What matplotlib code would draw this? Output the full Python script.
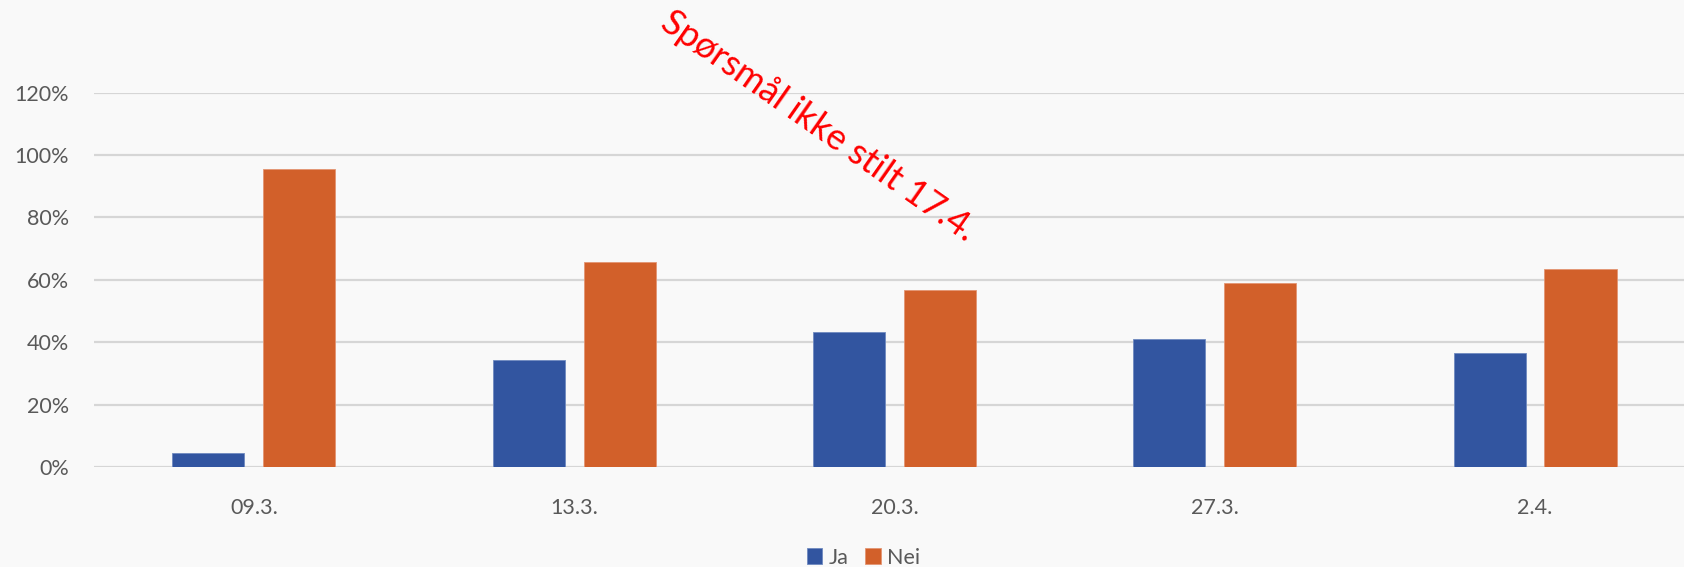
import numpy as np
import matplotlib
matplotlib.use("Agg")
import matplotlib.pyplot as plt

plt.rcParams['font.family'] = ['Lato', 'DejaVu Sans']

dates = ["09.3.", "13.3.", "20.3.", "27.3.", "2.4."]
ja = [4.5, 34.2, 43.4, 40.9, 36.5]
nei = [95.5, 65.8, 56.6, 59.1, 63.5]
yticks = [0, 20, 40, 60, 80, 100, 120]

blue = "#3255A0"
orange = "#D2602A"
grey_text = "#595959"
bg = "#F9F9F9"

W, H = 1684, 567
fig = plt.figure(figsize=(W / 100, H / 100), dpi=100, facecolor=bg)
# plot area runs past the right edge (the reference is cropped there)
ax = fig.add_axes([93.7 / W, 1 - 467 / H, 1601.5 / W, (467 - 92.7) / H])
ax.set_facecolor(bg)

x = np.arange(len(dates))
bw = 0.225
off = 0.142
ax.bar(x - off, ja, bw, color=blue, edgecolor="#6f8ac0", linewidth=0.6, label="Ja", zorder=3)
ax.bar(x + off, nei, bw, color=orange, edgecolor="#e39573", linewidth=0.6, label="Nei", zorder=3)

ax.set_xlim(-0.5, len(dates) - 0.5)
ax.set_ylim(0, 120)
ax.set_yticks(yticks)
ax.set_yticklabels([f"{v}%" for v in yticks])
ax.set_xticks(x)
ax.set_xticklabels(dates)
ax.yaxis.grid(True, color="#D6D6D6", linewidth=1.6, zorder=0)
ax.set_axisbelow(True)
for s in ax.spines.values():
    s.set_visible(False)
ax.tick_params(axis="both", length=0, labelsize=15.5, labelcolor=grey_text)
ax.tick_params(axis="y", pad=18)
ax.tick_params(axis="x", pad=22)

fig.text(819 / W, 1 - 126 / H, "Spørsmål ikke stilt 17.4.", color="red",
         fontsize=26, rotation=-35, rotation_mode="anchor",
         ha="center", va="center")

leg = fig.legend(loc="center", bbox_to_anchor=(863.5 / W, 1 - 557.5 / H),
                 ncol=2, frameon=False, fontsize=15.5, handlelength=0.7,
                 handleheight=0.7, handletextpad=0.3, columnspacing=0.8,
                 borderpad=0, borderaxespad=0)
for t in leg.get_texts():
    t.set_color(grey_text)

fig.savefig("out.png", dpi=100, facecolor=bg)
